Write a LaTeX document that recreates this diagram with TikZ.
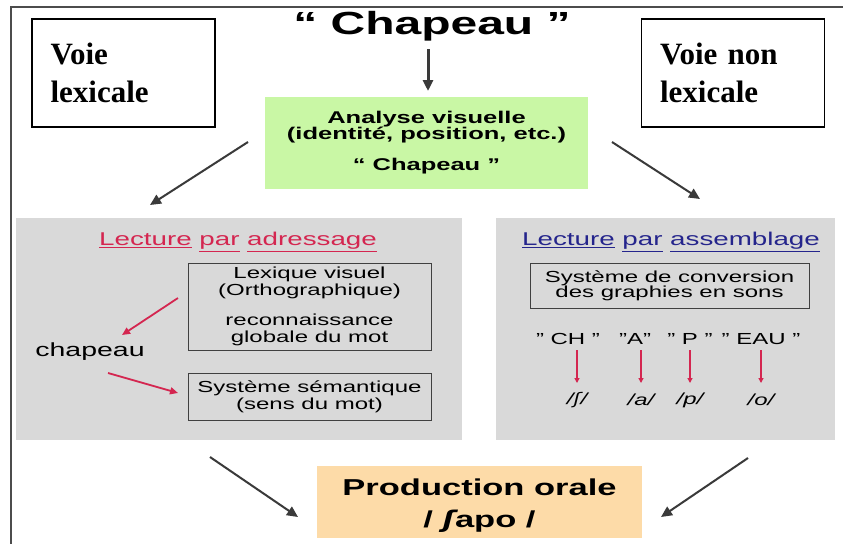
\documentclass[tikz,border=0pt]{standalone}
\usepackage{fontspec}
\setmainfont{Liberation Sans}[FakeStretch=1.5]
\newfontfamily\ipafont{DejaVu Sans}[FakeStretch=1.3]
\newfontfamily\voiefont{Liberation Serif}
\usetikzlibrary{arrows.meta}
\definecolor{panelgray}{HTML}{D9D9D9}
\definecolor{greenbox}{HTML}{C9F7A5}
\definecolor{orangebox}{HTML}{FDDBA8}
\definecolor{redtxt}{HTML}{D42650}
\definecolor{bluetxt}{HTML}{25258C}
\definecolor{darkarrow}{HTML}{3A3A3A}
\newcommand{\fsz}[2]{\fontsize{#1}{#2}\selectfont}
\tikzset{
  voiebox/.style={draw=black, line width=1.5pt, minimum width=183pt, minimum height=108pt,
    text width=146pt, align=left, inner sep=0pt, font=\voiefont\bfseries\fsz{31}{38}},
  panel/.style={fill=panelgray, draw=none, inner sep=0pt},
  innerbox/.style={draw=black!75, line width=1pt, fill=panelgray, align=center, inner sep=0pt, font=\fsz{16}{17}},
  bigarrow/.style={darkarrow, line width=2pt, -{Triangle[length=11pt,width=10pt]}},
  redarrow/.style={redtxt, line width=1.8pt, -{Triangle[length=8pt,width=7pt]}},
  phon/.style={font=\itshape\fsz{16}{17}, inner sep=1pt},
}
\begin{document}
\begin{tikzpicture}[x=1pt,y=-1pt]
\useasboundingbox (0,0) rectangle (843,544);
\fill[white] (0,0) rectangle (843,544);
% outer frame
\draw[black!70, line width=1.3pt] (843,7) -- (11,7) -- (11,544);

% voie boxes
\node[voiebox] (vl) at (123.5,73) {Voie\\lexicale};
\node[voiebox] (vnl) at (733,73) {Voie non\\lexicale};

% title
\node[font=\bfseries\fsz{32}{36}, inner sep=0pt] (title) at (432,26) {“ Chapeau ”};

% green box
\node[fill=greenbox, minimum width=323pt, minimum height=92pt, inner sep=0pt, align=center,
  font=\bfseries\fsz{17}{16}] (green) at (426.5,143) {Analyse visuelle\\(identité, position, etc.)\\[15pt]“ Chapeau ”};

\draw[bigarrow, line width=3pt] (428,49) -- (428,91);

% panels
\node[panel, minimum width=446pt, minimum height=222pt] (lpanel) at (239,329) {};
\node[panel, minimum width=339pt, minimum height=222pt] (rpanel) at (665.5,329) {};

\draw[bigarrow] (248,142) -- (150,205);
\draw[bigarrow] (612,142) -- (700,199);

% left panel content
\node[text=redtxt, font=\fsz{18.5}{20}] (lhead) at (238,242) {\underline{Lecture} \underline{par} \underline{adressage}};
\node[innerbox, minimum width=243pt, minimum height=87pt] (lex) at (309.5,306.5)
  {Lexique visuel\\(Orthographique)\\[13pt]reconnaissance\\globale du mot};
\node[innerbox, minimum width=243pt, minimum height=47pt] (sem) at (309.5,396.5)
  {Système sémantique\\(sens du mot)};
\node[font=\fsz{19}{20}, inner sep=0pt] (chap) at (90,352) {chapeau};
\coordinate (la1) at (178,298);
\coordinate (la2) at (108,373);
\draw[redarrow] (la1) -- (122,335);
\draw[redarrow] (la2) -- (178,393);

% right panel content
\node[text=bluetxt, font=\fsz{18.5}{20}] (rhead) at (671,242) {\underline{Lecture} \underline{par} \underline{assemblage}};
\node[innerbox, minimum width=279pt, minimum height=45pt, font=\fsz{16}{15}] (conv) at (669.5,285.5)
  {Système de conversion\\des graphies en sons};

\begin{scope}[every node/.style={font=\fsz{16}{17}, inner sep=1pt}]
\node (g1) at (568,339) {" CH "};
\node (g2) at (635,339) {"A"};
\node (g3) at (690,339) {" P "};
\node (g4) at (761,339) {" EAU "};
\end{scope}
\node[phon] (p1) at (577,400) {/{\ipafont\itshape ʃ}/};
\node[phon] (p2) at (641,400) {/a/};
\node[phon] (p3) at (690,400) {/p/};
\node[phon] (p4) at (761,400) {/o/};
\foreach \x in {577,641,690,761}
  \draw[redarrow, line width=1.3pt, -{Triangle[length=5pt,width=5pt]}] (\x,350) -- (\x,383);

% production
\node[fill=orangebox, minimum width=325pt, minimum height=72pt, inner sep=0pt] (prod) at (479.5,502) {};
\node[align=center, inner sep=0pt, font=\bfseries\fsz{23}{32}] (prodtext) at ([yshift=-4pt]prod.center)
  {Production orale\\/ {\ipafont\bfseries\itshape ʃ}apo /};
\draw[bigarrow] (210,457) -- (298,517);
\draw[bigarrow] (748,458) -- (661,517);
\end{tikzpicture}
\end{document}
